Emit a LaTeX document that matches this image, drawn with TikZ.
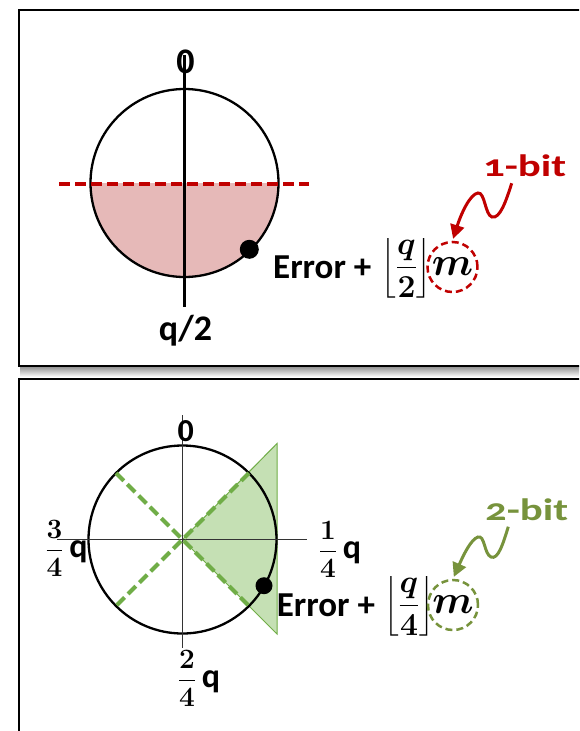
\RequirePackage{fix-cm}
\documentclass[tikz,border=0pt]{standalone}
\usepackage{amsmath,bm}
\usepackage[no-math]{fontspec}
\setmainfont{Carlito}
\newfontfamily\bitfont[Numbers=OldStyle]{Carlito}
\usetikzlibrary{arrows.meta}
\definecolor{myred}{HTML}{C00000}
\definecolor{mypink}{HTML}{E6B9B8}
\definecolor{mygreen}{HTML}{70AD47}
\definecolor{myolive}{HTML}{77933C}
\definecolor{mytri}{HTML}{C5E0B4}
\tikzset{
  frame/.style={draw=black,line width=2pt,fill=white},
  ring/.style={draw=black,line width=2.3pt},
  axisthick/.style={draw=black,line width=2.3pt},
  axisthin/.style={draw=black!80,line width=1.3pt},
  reddash/.style={draw=myred,line width=3.8pt,dash pattern=on 11pt off 5pt},
  greendash/.style={draw=mygreen,line width=4pt,dash pattern=on 11pt off 5pt},
  dot/.style={circle,fill=black,inner sep=0pt},
  lbl/.style={inner sep=0pt,font=\bfseries\fontsize{35}{38}\selectfont},
  fraclbl/.style={inner sep=0pt},
  mcirc/.style={circle,dashed,line width=2.5pt,dash pattern=on 7pt off 4pt,minimum size=50pt,inner sep=0pt,font=\fontsize{40}{44}\selectfont},
  bitlbl/.style={inner sep=0pt,font=\bitfont\bfseries\fontsize{31}{34}\selectfont},
  wavy/.style={line width=3pt,-{Triangle[length=14pt,width=14pt]},shorten >=2pt},
}
\newcommand{\fq}[2]{{\fontsize{28}{32}\selectfont$\displaystyle\frac{\mathbf{#1}}{\mathbf{#2}}$}\hspace{6pt}{\bfseries\fontsize{34}{36}\selectfont q}}
\newcommand{\flr}[2]{{\fontsize{32}{36}\selectfont$\displaystyle\left\lfloor\frac{\bm{#1}}{\mathbf{#2}}\right\rfloor$}}
\newcommand{\wide}[1]{\scalebox{1.38}[1]{#1}}
\begin{document}
\begin{tikzpicture}[x=1pt,y=-1pt]
\useasboundingbox (0,0) rectangle (579,731);
\clip (0,0) rectangle (579,731);
% shadow under top panel
\shade[top color=black!45,bottom color=white] (20,366) rectangle (620,377);
% frames
\draw[frame] (18.5,10) rectangle (620,365.5);
\draw[frame] (18.5,378.5) rectangle (620,780);

% ---------- top panel ----------
\coordinate (c1) at (184.5,183);
\fill[mypink] (90.5,183) arc[start angle=180,end angle=0,radius=94] -- cycle;
\draw[ring] (c1) circle[radius=94];
\coordinate (v1t) at (184.5,55);
\coordinate (v1b) at (184.5,307);
\draw[axisthick] (v1t) -- (v1b);
\coordinate (h1l) at (59,184);
\coordinate (h1r) at (309,184);
\draw[reddash] (h1l) -- (h1r);
\node[dot,minimum size=19pt] (d1) at (249.3,249.3) {};
\node[lbl,font=\bfseries\fontsize{36}{40}\selectfont] (z1) at (185.5,62) {0};
\node[lbl,font=\bfseries\fontsize{36}{40}\selectfont,anchor=base] (q2) at (185.5,340) {q/2};
\node[lbl,anchor=base west] (e1) at (273,278.5) {Error +};
\node[fraclbl] (b1) at (406.5,268) {\flr{q}{2}};
\node[mcirc,draw=myred] (m1) at (452.5,267) {$\bm{m}$};
\node[bitlbl,text=myred,anchor=base west] (bit1) at (483,176.7) {\wide{1-bit}};
\coordinate (s1) at (511.7,183.3);
\draw[wavy,myred] (s1) .. controls (506,201) and (500,219) .. (492,217)
  .. controls (485,215) and (485,192) .. (478,193)
  .. controls (470,194) and (461,214) .. (m1.north);

% ---------- bottom panel ----------
\coordinate (c2) at (182.5,539.5);
\coordinate (t1) at (277,443.5);
\coordinate (t2) at (277,634);
\filldraw[fill=mytri,draw=mygreen,line width=1pt] (c2) -- (t1) -- (t2) -- cycle;
\draw[ring] (c2) circle[radius=94];
\coordinate (v2t) at (182.5,415);
\coordinate (v2b) at (182.5,648);
\coordinate (h2l) at (57,539.5);
\coordinate (h2r) at (307,539.5);
\draw[axisthin] (v2t) -- (v2b);
\draw[axisthin] (h2l) -- (h2r);
\coordinate (g1) at (116,473);
\coordinate (g2) at (249,606);
\coordinate (g3) at (249,473);
\coordinate (g4) at (116,606);
\draw[greendash] (g1) -- (g2);
\draw[greendash] (g3) -- (g4);
\node[dot,minimum size=17pt] (d2) at (264,585.7) {};
\node[lbl,font=\bfseries\fontsize{32}{36}\selectfont] (z2) at (185.7,431) {0};
\node[fraclbl,anchor=base] (l34) at (66.5,557) {\fq{3}{4}};
\node[fraclbl,anchor=base] (l14) at (340,558) {\fq{1}{4}};
\node[fraclbl,anchor=base] (l24) at (199,687) {\fq{2}{4}};
\node[lbl,anchor=base west] (e2) at (276.7,616.7) {Error +};
\node[fraclbl] (b2) at (409,606) {\flr{q}{4}};
\node[mcirc,draw=myolive] (m2) at (453,605) {$\bm{m}$};
\node[bitlbl,text=myolive,anchor=base west] (bit2) at (485,520) {\wide{2-bit}};
\coordinate (s2) at (508.3,526.7);
\draw[wavy,myolive] (s2) .. controls (503,544) and (498,560) .. (491,557)
  .. controls (484,554) and (485,535) .. (478,537)
  .. controls (471,539) and (463,556) .. (m2.north);
\end{tikzpicture}
\end{document}
